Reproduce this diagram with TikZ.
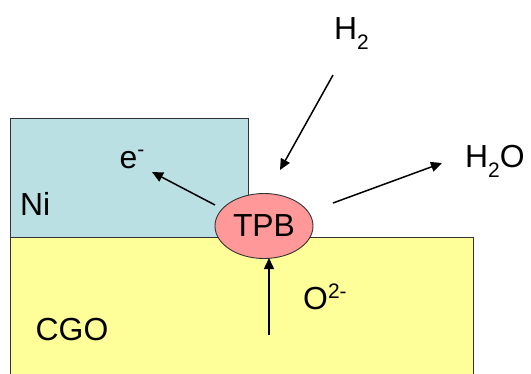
\documentclass[tikz,border=0pt]{standalone}
\usepackage{fontspec}
\setmainfont{Liberation Sans}
\usetikzlibrary{shapes.geometric,arrows.meta}
\definecolor{niblue}{RGB}{186,224,227}
\definecolor{cgoyellow}{RGB}{255,255,153}
\definecolor{tpbpink}{RGB}{255,153,153}
\tikzset{
  layer/.style={draw=black!80, line width=0.9bp},
  lbl/.style={inner sep=0pt, anchor=base west, font=\fontsize{32}{38}\selectfont},
  flow/.style={line width=1.5bp, -{Triangle[length=11bp,width=10bp]}}
}
\newcommand{\lowtwo}{\raisebox{-10bp}{\fontsize{21}{21}\selectfont 2}}
\begin{document}
\begin{tikzpicture}[x=1bp,y=-1bp]
\useasboundingbox (0,0) rectangle (531,373);
% layers
\path[layer, fill=cgoyellow] (10,237) rectangle (473,380);
\path[layer, fill=niblue] (10,118) rectangle (248,237);
\node[ellipse, layer, fill=tpbpink, minimum width=98bp, minimum height=65bp, inner sep=0pt,
      font=\fontsize{32}{38}\selectfont] (tpb) at (264,226) {TPB};
% labels
\node[lbl] (ni) at (20,215) {Ni};
\node[lbl] (cgo) at (35.5,340) {CGO};
\node[lbl] (e) at (119.5,168) {e\raisebox{12bp}{\fontsize{21}{21}\selectfont -}};
\node[lbl] (h2) at (334,39) {H\lowtwo};
\node[lbl] (h2o) at (465,167) {H\lowtwo O};
\node[lbl] (o2) at (303,309) {O\raisebox{11bp}{\fontsize{21}{21}\selectfont 2-}};
% arrow ends
\coordinate (eS) at (215,205);
\coordinate (eT) at (152,172);
\coordinate (hS) at (333,75);
\coordinate (hT) at (280,170);
\coordinate (wS) at (333,203);
\coordinate (wT) at (442,163);
\coordinate (oS) at (269,335);
\coordinate (oT) at (269,258);
% arrows
\draw[flow] (eS) -- (eT);
\draw[flow] (hS) -- (hT);
\draw[flow] (wS) -- (wT);
\draw[flow] (oS) -- (oT);
\end{tikzpicture}
\end{document}
